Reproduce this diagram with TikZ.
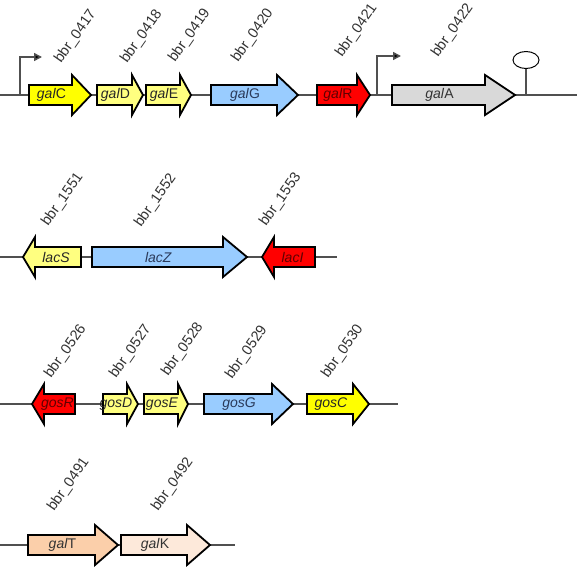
\documentclass[tikz,border=0pt]{standalone}
\usepackage{fontspec}
\setmainfont{Liberation Sans}
\usetikzlibrary{arrows.meta,shapes.geometric}
\definecolor{ylw}{HTML}{FFFF00}
\definecolor{pylw}{HTML}{FFFF80}
\definecolor{lblue}{HTML}{99CCFF}
\definecolor{gred}{HTML}{FF0000}
\definecolor{ggray}{HTML}{D9D9D9}
\definecolor{peach}{HTML}{FBCFAA}
\definecolor{lpeach}{HTML}{FDE9DA}
\definecolor{chrom}{HTML}{505050}
\definecolor{redtxt}{HTML}{600000}
\definecolor{bluetxt}{HTML}{2A3A5A}
\tikzset{
  genebox/.style={draw=black, line width=1.8pt, line join=miter},
  genename/.style={font=\fontsize{14}{15}\selectfont, text=black!85, inner sep=0pt},
  locus/.style={font=\fontsize{14.5}{15}\selectfont, text=black!80, rotate=55, anchor=base west, inner sep=0pt},
  chromline/.style={draw=chrom, line width=1.2pt},
  promoter/.style={draw=chrom, line width=1.5pt, -{Triangle[length=8pt,width=8pt,fill=black]}},
}
% forward gene: name, left, headbase, tip, y, fill, text, textcolor
\newcommand\fwdgene[8]{%
  \draw[genebox, fill=#6] (#2,#5-10) -- (#3,#5-10) -- (#3,#5-20) -- (#4,#5) -- (#3,#5+20) -- (#3,#5+10) -- (#2,#5+10) -- cycle;
  \node[genename, text=#8] (#1) at ({(#2+#3)/2+1},#5) {#7};}
% reverse gene: name, tip, headbase, right, y, fill, text, textcolor
\newcommand\revgene[8]{%
  \draw[genebox, fill=#6] (#4,#5-10) -- (#3,#5-10) -- (#3,#5-20) -- (#2,#5) -- (#3,#5+20) -- (#3,#5+10) -- (#4,#5+10) -- cycle;
  \node[genename, text=#8] (#1) at ({(#3+#4)/2-2},#5) {#7};}
\begin{document}
\begin{tikzpicture}[x=1pt,y=-1pt]
\useasboundingbox (0,0) rectangle (577,568);
\fill[white] (0,0) rectangle (577,568);

% ---------- row 1 ----------
\coordinate (r1a) at (0,95);
\coordinate (r1b) at (577,95);
\draw[chromline] (r1a) -- (r1b);
\coordinate (p1) at (20,95);
\coordinate (p1e) at (42,57);
\draw[promoter] (p1) |- (p1e);
\coordinate (p2) at (377,95);
\coordinate (p2e) at (401,56);
\draw[promoter] (p2) |- (p2e);
\coordinate (t1) at (526,95);
\node[draw=black, fill=white, line width=1pt, ellipse, minimum width=26pt, minimum height=17pt, inner sep=0pt] (term) at (526,60) {};
\draw[draw=chrom, line width=1.3pt] (t1) -- (term.south);

\fwdgene{galC}{29}{72}{91}{95}{ylw}{\textit{gal}C}{black!85}
\fwdgene{galD}{97}{132}{143}{95}{pylw}{\textit{gal}D}{black!85}
\fwdgene{galE}{146}{180}{191}{95}{pylw}{\textit{gal}E}{black!85}
\fwdgene{galG}{211}{277}{298}{95}{lblue}{\textit{gal}G}{bluetxt}
\fwdgene{galR}{317}{357}{370}{95}{gred}{\textit{gal}R}{redtxt}
\fwdgene{galA}{392}{485}{515}{95}{ggray}{\textit{gal}A}{black!80}

\node[locus] (l0417) at (61,64) {bbr\_0417};
\node[locus] (l0418) at (127,64) {bbr\_0418};
\node[locus] (l0419) at (175,63) {bbr\_0419};
\node[locus] (l0420) at (238,63) {bbr\_0420};
\node[locus] (l0421) at (342,58) {bbr\_0421};
\node[locus] (l0422) at (438,58) {bbr\_0422};

% ---------- row 2 ----------
\coordinate (r2a) at (0,257);
\coordinate (r2b) at (337,257);
\draw[chromline] (r2a) -- (r2b);
\revgene{lacS}{23}{35}{81}{257}{pylw}{\textit{lacS}}{black!85}
\fwdgene{lacZ}{92}{223}{247}{257}{lblue}{\textit{lacZ}}{bluetxt}
\revgene{lacI}{262}{274}{315}{257}{gred}{\textit{lacI}}{redtxt}

\node[locus] (l1551) at (48,227) {bbr\_1551};
\node[locus] (l1552) at (141,228) {bbr\_1552};
\node[locus] (l1553) at (266,227) {bbr\_1553};

% ---------- row 3 ----------
\coordinate (r3a) at (0,404);
\coordinate (r3b) at (398,404);
\draw[chromline] (r3a) -- (r3b);
\revgene{gosR}{32}{44}{75}{404}{gred}{\textit{gosR}}{redtxt}
\fwdgene{gosD}{103}{127}{138}{404}{pylw}{\textit{gosD}}{black!85}
\fwdgene{gosE}{144}{178}{188}{404}{pylw}{\textit{gosE}}{black!85}
\fwdgene{gosG}{204}{272}{293}{404}{lblue}{\textit{gosG}}{bluetxt}
\fwdgene{gosC}{307}{353}{369}{404}{ylw}{\textit{gosC}}{black!85}

\node[locus] (l0526) at (51,379) {bbr\_0526};
\node[locus] (l0527) at (116,379) {bbr\_0527};
\node[locus] (l0528) at (168,377) {bbr\_0528};
\node[locus] (l0529) at (232,380) {bbr\_0529};
\node[locus] (l0530) at (328,379) {bbr\_0530};

% ---------- row 4 ----------
\coordinate (r4a) at (0,545);
\coordinate (r4b) at (235,545);
\draw[chromline] (r4a) -- (r4b);
\fwdgene{galT}{28}{95}{118}{545}{peach}{\textit{gal}T}{black!80}
\fwdgene{galK}{121}{187}{210}{545}{lpeach}{\textit{gal}K}{black!80}

\node[locus] (l0491) at (54,512) {bbr\_0491};
\node[locus] (l0492) at (158,512) {bbr\_0492};
\end{tikzpicture}
\end{document}
